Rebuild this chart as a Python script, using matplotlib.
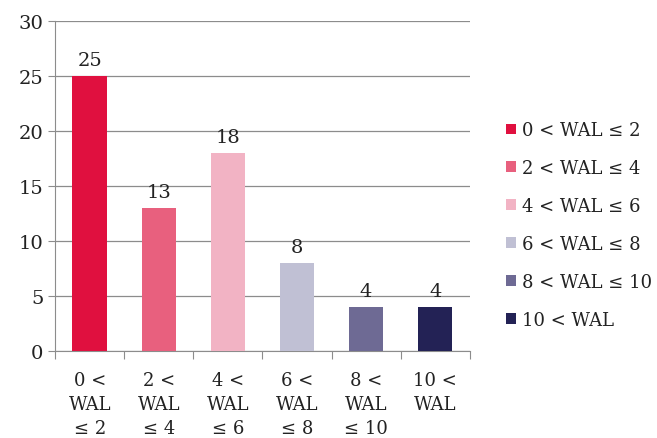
import matplotlib.pyplot as plt
from matplotlib.patches import Patch

# --- data ---
categories = ["0 <\nWAL\n≤ 2", "2 <\nWAL\n≤ 4", "4 <\nWAL\n≤ 6",
              "6 <\nWAL\n≤ 8", "8 <\nWAL\n≤ 10", "10 <\nWAL"]
legend_labels = ["0 < WAL ≤ 2", "2 < WAL ≤ 4", "4 < WAL ≤ 6",
                 "6 < WAL ≤ 8", "8 < WAL ≤ 10", "10 < WAL"]
counts = [25, 13, 18, 8, 4, 4]
colors = ["#E0103F", "#E8607E", "#F2B3C4", "#C0C0D4", "#6E6A94", "#232255"]

plt.rcParams["font.family"] = ["DejaVu Serif"]
fs = 13

fig = plt.figure(figsize=(6.57, 4.39), dpi=100)
ax = fig.add_axes([0.084, 0.198, 0.631, 0.752])

x = range(len(counts))
ax.bar(x, counts, width=0.5, color=colors, zorder=3)
for xi, v in zip(x, counts):
    ax.text(xi, v + 0.6, str(v), ha="center", va="bottom", fontsize=14, color="#222222")

ax.set_xlim(-0.5, len(counts) - 0.5)
ax.set_ylim(0, 30)
ax.set_yticks(range(0, 31, 5))
ax.yaxis.grid(True, color="#8c8c8c", linewidth=0.9, zorder=0)
ax.tick_params(axis="y", labelsize=14, length=5, color="#8c8c8c", labelcolor="#222222")

ax.set_xticks([i - 0.5 for i in range(len(counts) + 1)], minor=False)
ax.set_xticklabels([])
ax.set_xticks(list(x), minor=True)
ax.set_xticklabels(categories, minor=True, fontsize=fs, color="#222222", linespacing=1.45)
ax.tick_params(axis="x", which="major", length=6, color="#8c8c8c")
ax.tick_params(axis="x", which="minor", length=0, pad=14)

for s in ["top", "right"]:
    ax.spines[s].set_visible(False)
for s in ["left", "bottom"]:
    ax.spines[s].set_color("#8c8c8c")

handles = [Patch(facecolor=c, edgecolor="none") for c in colors]
fig.legend(handles, legend_labels, loc="center left", bbox_to_anchor=(0.745, 0.485),
           frameon=False, fontsize=fs, handlelength=0.55, handleheight=0.55,
           handletextpad=0.35, labelspacing=1.1, labelcolor="#222222")

fig.savefig("out.png", dpi=100)
